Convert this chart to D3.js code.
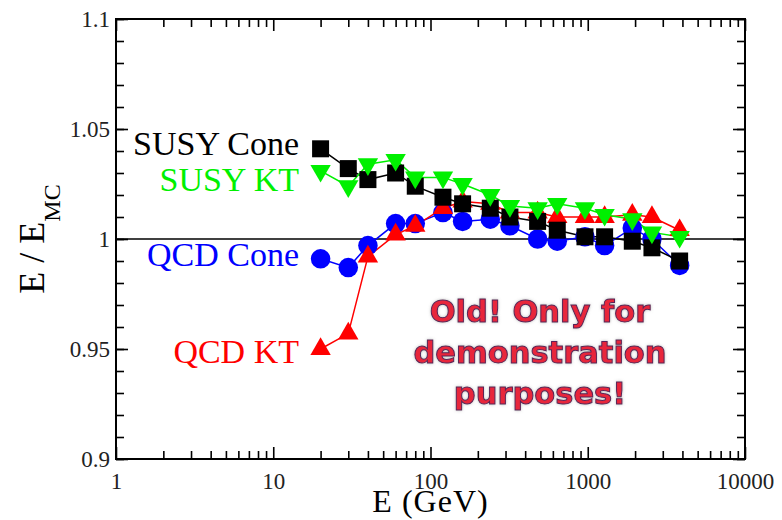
<!DOCTYPE html>
<html>
<head>
<meta charset="utf-8">
<script src="https://cdn.jsdelivr.net/npm/d3@7"></script>
<style>
  body { margin: 0; background: #fff; }
  .tick text { font-family: "Liberation Serif", "Times New Roman", serif; font-size: 23px; fill: #222; }
  .tick line { stroke: #000; stroke-width: 1.6; }
</style>
</head>
<body>
<svg id="chart"></svg>
<script>
// Jet energy scale E / E_MC versus E (GeV)
const energies = [20, 30, 40, 60, 80, 120, 160, 240, 320, 480, 640, 960, 1280, 1920, 2560, 3840];
const susyCone = [1.041, 1.032, 1.027, 1.030, 1.024, 1.019, 1.016, 1.014, 1.010, 1.008, 1.004, 1.001, 1.001, 0.999, 0.996, 0.990];
const susyKT   = [1.031, 1.024, 1.034, 1.036, 1.028, 1.028, 1.025, 1.020, 1.015, 1.014, 1.016, 1.014, 1.011, 1.009, 1.003, 1.001];
const qcdCone  = [0.991, 0.987, 0.997, 1.007, 1.007, 1.012, 1.008, 1.009, 1.006, 1.000, 0.999, 1.001, 0.997, 1.005, 1.000, 0.988];
const qcdKT    = [0.950, 0.957, 0.992, 1.002, 1.006, 1.014, 1.017, 1.016, 1.012, 1.012, 1.010, 1.010, 1.010, 1.011, 1.010, 1.004];

const xMajorTicks = [1, 10, 100, 1000, 10000];
const yMajorTicks = [0.9, 0.95, 1, 1.05, 1.1];
const yMinorTicks = d3.range(0.9, 1.1001, 0.01);
const xMinorTicks = [1, 10, 100, 1000].flatMap(d => d3.range(2, 10).map(k => k * d));

const width = 782, height = 520;
const margin = { top: 19, right: 37, bottom: 61, left: 116 };

const svg = d3.select("#chart").attr("width", width).attr("height", height);

const x = d3.scaleLog().domain([1, 10000]).range([margin.left, width - margin.right]);
const y = d3.scaleLinear().domain([0.9, 1.1]).range([height - margin.bottom, margin.top]);

// Series drawn in this order (later on top)
const series = [
  { name: "QCD Cone",  values: qcdCone,  color: "#0000ff", symbol: d3.symbolCircle,   size: 300, rotate: 0 },
  { name: "QCD KT",    values: qcdKT,    color: "#ff0000", symbol: d3.symbolTriangle, size: 180, rotate: 0 },
  { name: "SUSY Cone", values: susyCone, color: "#000000", symbol: d3.symbolSquare,   size: 289, rotate: 0 },
  { name: "SUSY KT",   values: susyKT,   color: "#00f000", symbol: d3.symbolTriangle, size: 180, rotate: 180 }
];

// Axes: ticks point inward on all four sides
const fmt = d => d3.format("~g")(d);
const axes = [
  { axis: d3.axisBottom(x), pos: `translate(0,${y.range()[0]})`, major: xMajorTicks, minor: xMinorTicks, labels: true },
  { axis: d3.axisTop(x),    pos: `translate(0,${y.range()[1]})`, major: xMajorTicks, minor: xMinorTicks, labels: false },
  { axis: d3.axisLeft(y),   pos: `translate(${x.range()[0]},0)`, major: yMajorTicks, minor: yMinorTicks, labels: true },
  { axis: d3.axisRight(y),  pos: `translate(${x.range()[1]},0)`, major: yMajorTicks, minor: yMinorTicks, labels: false }
];

axes.forEach(a => {
  const isX = a.axis.scale() === x;
  svg.append("g")
    .attr("transform", a.pos)
    .call(a.axis.tickValues(a.minor).tickSizeInner(-8).tickSizeOuter(0).tickFormat(""))
    .call(g => g.select(".domain").remove());
  svg.append("g")
    .attr("class", "major")
    .attr("transform", a.pos)
    .call(a.axis.tickValues(a.major).tickSizeInner(-12).tickSizeOuter(0)
      .tickPadding(isX ? 14 : 6)
      .tickFormat(a.labels ? fmt : ""))
    .call(g => g.select(".domain").remove());
});

// Frame
svg.append("rect")
  .attr("x", x.range()[0]).attr("y", y.range()[1])
  .attr("width", x.range()[1] - x.range()[0])
  .attr("height", y.range()[0] - y.range()[1])
  .attr("fill", "none").attr("stroke", "#000").attr("stroke-width", 2);

// Reference line at 1
svg.append("line")
  .attr("x1", x.range()[0]).attr("x2", x.range()[1])
  .attr("y1", y(1)).attr("y2", y(1))
  .attr("stroke", "#000").attr("stroke-width", 1.5);

// Lines
const line = d3.line().x((d, i) => x(energies[i])).y(d => y(d));
series.forEach(s => {
  svg.append("path")
    .datum(s.values)
    .attr("d", line)
    .attr("fill", "none")
    .attr("stroke", s.color)
    .attr("stroke-width", 1.5);
});

// Markers
series.forEach(s => {
  svg.append("g").selectAll("path")
    .data(s.values)
    .join("path")
    .attr("transform", (d, i) => `translate(${x(energies[i])},${y(d)}) rotate(${s.rotate})`)
    .attr("d", d3.symbol().type(s.symbol).size(s.size))
    .attr("fill", s.color);
});

// Series labels
const seriesLabels = [
  { text: "SUSY Cone", color: "#000000", y: 155 },
  { text: "SUSY KT",   color: "#00f000", y: 191 },
  { text: "QCD Cone",  color: "#0000ff", y: 266 },
  { text: "QCD KT",    color: "#ff0000", y: 363 }
];
svg.append("g").selectAll("text")
  .data(seriesLabels)
  .join("text")
  .attr("x", 299)
  .attr("y", d => d.y)
  .attr("text-anchor", "end")
  .style("font-family", "'Liberation Serif', 'Times New Roman', serif")
  .style("font-size", "34px")
  .style("fill", d => d.color)
  .text(d => d.text);

// Axis titles
svg.append("text")
  .attr("x", (x.range()[0] + x.range()[1]) / 2)
  .attr("y", 512)
  .attr("text-anchor", "middle")
  .style("font-family", "'Liberation Serif', 'Times New Roman', serif")
  .style("font-size", "32px")
  .style("letter-spacing", "1px")
  .text("E (GeV)");

const yTitle = svg.append("text")
  .attr("transform", `translate(44,${(y.range()[0] + y.range()[1]) / 2}) rotate(-90)`)
  .attr("text-anchor", "middle")
  .style("font-family", "'Liberation Serif', 'Times New Roman', serif")
  .style("font-size", "36px");
yTitle.append("tspan").text("E / E");
yTitle.append("tspan").attr("dy", 16).style("font-size", "24px").text("MC");

// Watermark
const defs = svg.append("defs");
defs.append("filter").attr("id", "glow")
  .append("feDropShadow")
  .attr("dx", 0).attr("dy", 0).attr("stdDeviation", 1.5)
  .attr("flood-color", "#777").attr("flood-opacity", 0.5);

const stamp = ["Old! Only for", "demonstration", "purposes!"];
svg.append("g").attr("filter", "url(#glow)").selectAll("text")
  .data(stamp)
  .join("text")
  .attr("x", 540)
  .attr("y", (d, i) => 322 + i * 41)
  .attr("text-anchor", "middle")
  .style("font-family", "'Comic Sans MS', 'DejaVu Sans', sans-serif")
  .style("font-weight", "bold")
  .style("font-size", "30.5px")
  .style("fill", "#e8263a")
  .style("stroke", "#5a2458")
  .style("stroke-width", 1)
  .text(d => d);
</script>
</body>
</html>
